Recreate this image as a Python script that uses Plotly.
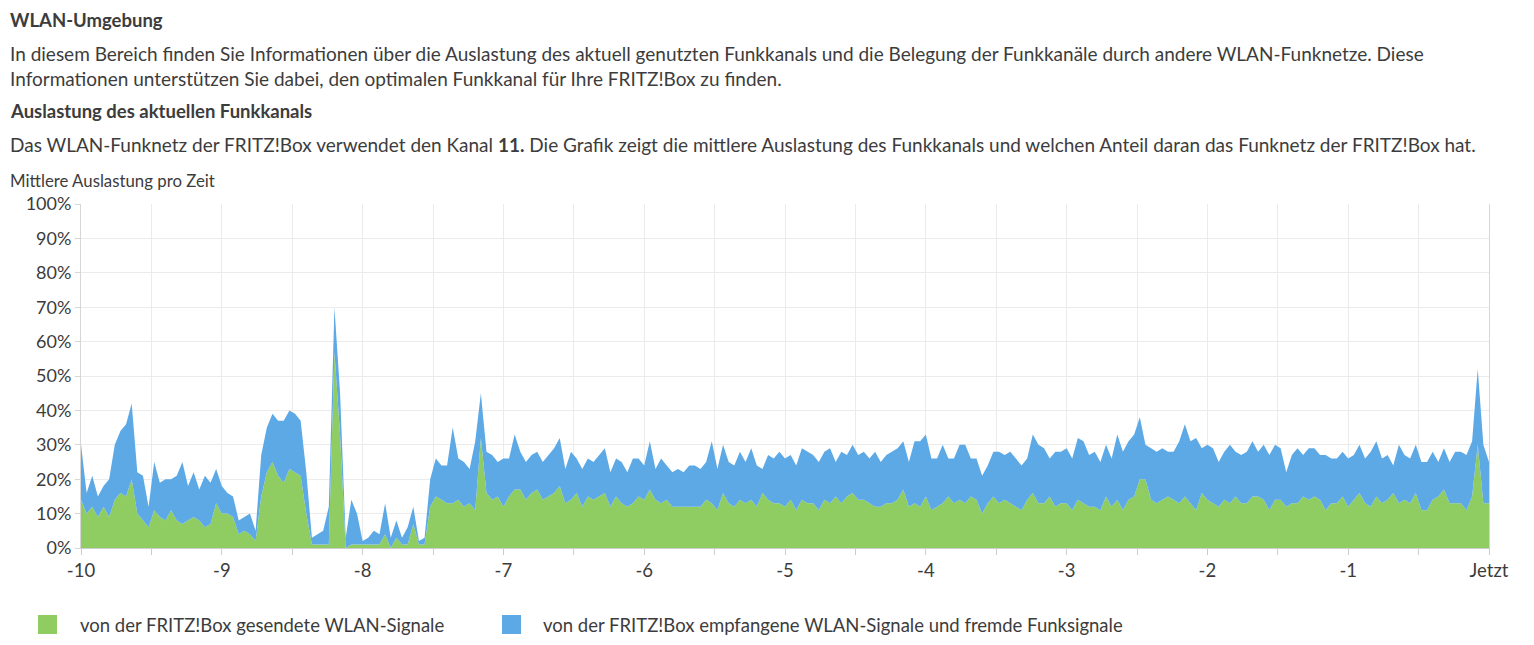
import numpy as np
import plotly.graph_objects as go

# Zeitachse (Stunden vor jetzt), Abtastung alle 0.04
zeit = np.round(np.arange(251) * 0.04 - 10, 2)

# Anteil der FRITZ!Box (gesendete WLAN-Signale), in %
fritzbox_gesendet = [
    14, 10, 12, 9, 12, 9, 14, 16, 15, 20, 10, 8, 6, 11, 9, 8, 11, 8, 7, 8,
    9, 8, 6, 7, 13, 10, 10, 9, 4, 5, 4, 2, 15, 22, 25, 21, 19, 23, 22, 21,
    10, 1, 1, 1, 1, 57, 33, 0, 1, 1, 1, 1, 1, 1, 4, 0, 3, 1, 1, 7,
    1, 1, 12,
    15, 14, 13, 13, 14, 12, 13, 11, 32, 16, 14, 15, 12, 15, 17, 17, 14, 16, 17, 14,
    15, 16, 18, 13, 14, 16, 12, 15, 14, 15, 16, 12, 15, 13, 12, 13, 15, 14, 17, 14,
    13, 14, 12, 12, 12, 12, 12, 12, 14, 13, 11, 16, 13, 12, 14, 13, 14, 12, 16, 14,
    13, 13,
    12, 14, 11, 14, 13, 13, 11, 14, 13, 15, 13, 15, 16, 14, 14, 13, 12, 12, 13, 13,
    14, 17, 12, 13, 12, 15, 11, 12, 13, 15, 13, 14, 13, 15, 14, 10, 13, 15, 13, 14,
    13, 12, 11, 14, 16, 13, 13, 15, 12, 13, 13, 11, 14, 13, 12, 12, 11, 15, 12, 14,
    11, 14, 15,
    20, 20, 14, 13, 14, 15, 14, 13, 15, 13, 11, 16, 14, 13, 12, 14, 13, 15, 13, 13,
    15, 15, 14, 11, 14, 14, 12, 13, 13, 15, 14, 15, 14, 11, 13, 13, 15, 12, 14, 16,
    13, 12, 15, 13, 14, 16, 13, 14, 13, 16, 11, 11, 14, 15, 17, 13, 13, 13, 11, 15,
    30, 13, 13,
]

# Gesamte Auslastung des Funkkanals (inkl. empfangene/fremde Signale), in %
gesamt = [
    30, 16, 21, 15, 18, 20, 30, 34, 36, 42, 22, 21, 12, 25, 19, 20, 20, 21, 25, 18,
    22, 17, 21, 19, 23, 18, 16, 15, 8, 9, 10, 5, 27, 35, 39, 37, 37, 40, 39, 37,
    22, 3, 4, 5, 12, 70, 45, 3, 14, 10, 2, 3, 5, 4, 13, 3, 8, 3, 6, 12,
    2, 3, 20,
    26, 24, 24, 35, 26, 25, 23, 31, 45, 28, 27, 25, 26, 26, 33, 28, 25, 27, 28, 25,
    27, 29, 32, 23, 28, 26, 23, 26, 25, 27, 29, 22, 26, 25, 22, 26, 26, 24, 31, 23,
    26, 24, 22, 23, 22, 24, 24, 23, 25, 31, 23, 30, 25, 24, 28, 25, 29, 24, 23, 27,
    26, 28,
    26, 27, 24, 29, 28, 27, 25, 28, 29, 25, 28, 27, 30, 27, 28, 26, 28, 25, 27, 28,
    29, 31, 25, 31, 31, 33, 26, 26, 30, 26, 26, 30, 30, 26, 26, 21, 24, 28, 28, 27,
    28, 26, 24, 26, 33, 30, 29, 26, 28, 28, 29, 26, 32, 31, 27, 28, 25, 30, 26, 33,
    28, 31, 33,
    38, 30, 29, 28, 29, 28, 28, 31, 36, 31, 32, 29, 30, 29, 25, 28, 30, 28, 27, 28,
    31, 28, 30, 27, 30, 29, 22, 27, 29, 27, 29, 29, 27, 27, 26, 26, 28, 26, 27, 30,
    26, 28, 31, 26, 27, 24, 30, 27, 26, 30, 25, 25, 28, 25, 29, 25, 28, 28, 27, 31,
    52, 30, 25,
]

x_ticks = [-10, -9, -8, -7, -6, -5, -4, -3, -2, -1, 0]
x_labels = ["-10", "-9", "-8", "-7", "-6", "-5", "-4", "-3", "-2", "-1", "Jetzt"]
y_ticks = [0, 10, 20, 30, 40, 50, 60, 70, 80, 90, 100]
y_labels = ["0%", "10%", "20%", "30%", "40%", "50%", "60%", "70%", "80%", "90%", "100%"]

GREEN = "#8fcc62"
BLUE = "#5ca9e6"
TEXT = "#3c3c3c"
FONT = "Lato"

# plot area in page pixels; the page puts the figure 8px in from the corner
OFF = 8
L, R, T, B = 81, 1489, 204, 548
W, H = 1534 - 2 * OFF, 645 - 2 * OFF


def px(x):
    return (x - L) / (R - L)


def py(y):
    return (B - y) / (B - T)


fig = go.Figure()
fig.add_trace(go.Scatter(
    x=zeit, y=fritzbox_gesendet, mode="lines",
    line=dict(width=0, color=GREEN), fill="tozeroy", fillcolor=GREEN,
    showlegend=False, hoverinfo="skip",
))
fig.add_trace(go.Scatter(
    x=zeit, y=gesamt, mode="lines",
    line=dict(width=0, color=BLUE), fill="tonexty", fillcolor=BLUE,
    showlegend=False, hoverinfo="skip",
))

texts = [
    (20, "<b>WLAN-Umgebung</b>", 18.5),
    (53, "In diesem Bereich finden Sie Informationen über die Auslastung des aktuell genutzten Funkkanals "
         "und die Belegung der Funkkanäle durch andere WLAN-Funknetze. Diese", 19),
    (78, "Informationen unterstützen Sie dabei, den optimalen Funkkanal für Ihre FRITZ!Box zu finden.", 19),
    (111, "<b>Auslastung des aktuellen Funkkanals</b>", 18.5),
    (145, "Das WLAN-Funknetz der FRITZ!Box verwendet den Kanal <b>11.</b> Die Grafik zeigt die mittlere "
          "Auslastung des Funkkanals und welchen Anteil daran das Funknetz der FRITZ!Box hat.", 19),
    (180, "Mittlere Auslastung pro Zeit", 16.8),
]
annotations = []
for y, t, s in texts:
    annotations.append(dict(
        x=px(8), y=py(y), xref="paper", yref="paper", text=t, showarrow=False,
        xanchor="left", yanchor="middle", font=dict(family=FONT, size=s, color=TEXT),
    ))

# Legende
legend_items = [
    (38, 78, GREEN, "von der FRITZ!Box gesendete WLAN-Signale"),
    (502, 541, BLUE, "von der FRITZ!Box empfangene WLAN-Signale und fremde Funksignale"),
]
shapes = []
for sx, tx, col, label in legend_items:
    shapes.append(dict(
        type="rect", xref="paper", yref="paper",
        x0=px(sx), x1=px(sx + 19), y0=py(634), y1=py(615),
        fillcolor=col, line=dict(width=0),
    ))
    annotations.append(dict(
        x=px(tx), y=py(625), xref="paper", yref="paper", text=label, showarrow=False,
        xanchor="left", yanchor="middle", font=dict(family=FONT, size=18.5, color=TEXT),
    ))

fig.update_layout(
    width=W, height=H,
    margin=dict(l=L - OFF, r=W - (R - OFF), t=T - OFF, b=H - (B - OFF)),
    paper_bgcolor="white", plot_bgcolor="white",
    font=dict(family=FONT, size=18, color=TEXT),
    annotations=annotations, shapes=shapes,
    xaxis=dict(
        range=[-10, 0], tickmode="array", tickvals=x_ticks, ticktext=x_labels,
        showgrid=True, gridcolor="#ebebeb", gridwidth=1,
        showline=True, linecolor="#cccccc", linewidth=1,
        ticks="outside", ticklen=6, tickcolor="#cccccc",
        minor=dict(dtick=0.5, tick0=0, showgrid=True, gridcolor="#ebebeb",
                   ticks="outside", ticklen=6, tickcolor="#cccccc"),
        tickfont=dict(family=FONT, size=18.5, color=TEXT),
        zeroline=False, fixedrange=True,
    ),
    yaxis=dict(
        range=[0, 100], tickmode="array", tickvals=y_ticks, ticktext=y_labels,
        showgrid=True, gridcolor="#ebebeb", gridwidth=1,
        showline=True, linecolor="#d6d6d6", linewidth=1, mirror=True,
        ticks="outside", ticklen=5, tickcolor="#d6d6d6",
        tickfont=dict(family=FONT, size=18, color=TEXT),
        zeroline=False, fixedrange=True,
    ),
)

fig.write_html("out.html")
